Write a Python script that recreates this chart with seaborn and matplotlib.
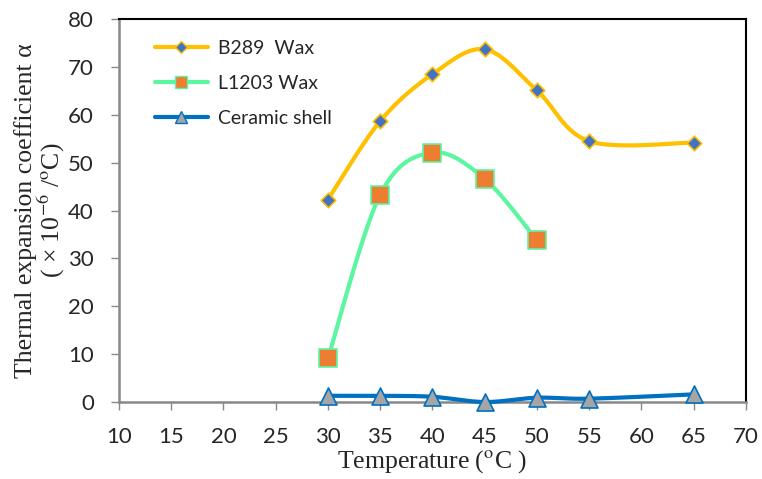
import numpy as np
import pandas as pd
import matplotlib
matplotlib.use("Agg")
import matplotlib.pyplot as plt
import seaborn as sns
from matplotlib.lines import Line2D

# ---- data ----
temp_b289 = [30, 35, 40, 45, 50, 55, 65]
alpha_b289 = [42.3, 58.7, 68.5, 73.7, 65.1, 54.5, 54.2]
temp_l1203 = [30, 35, 40, 45, 50]
alpha_l1203 = [9.1, 43.3, 52.1, 46.6, 33.8]
temp_ceramic = [30, 35, 40, 45, 50, 55, 65]
alpha_ceramic = [1.3, 1.3, 1.1, 0.0, 0.9, 0.7, 1.6]
series_names = ["B289  Wax", "L1203 Wax", "Ceramic shell"]
x_ticks = [10, 15, 20, 25, 30, 35, 40, 45, 50, 55, 60, 65, 70]
y_ticks = [0, 10, 20, 30, 40, 50, 60, 70, 80]

sns.set_theme(style="white")
plt.rcParams["font.family"] = ["Lato", "DejaVu Sans"]
plt.rcParams["mathtext.fontset"] = "stix"


def smooth(xs, ys, n=30):
    """Excel-like smoothed line (Catmull-Rom style cubic Bezier)."""
    xs = np.asarray(xs, float)
    ys = np.asarray(ys, float)
    px, py = [], []
    m = len(xs)
    for i in range(m - 1):
        x0, y0 = (xs[i - 1], ys[i - 1]) if i > 0 else (xs[i], ys[i])
        x1, y1 = xs[i], ys[i]
        x2, y2 = xs[i + 1], ys[i + 1]
        x3, y3 = (xs[i + 2], ys[i + 2]) if i + 2 < m else (xs[i + 1], ys[i + 1])
        c1x, c1y = x1 + (x2 - x0) / 6, y1 + (y2 - y0) / 6
        c2x, c2y = x2 - (x3 - x1) / 6, y2 - (y3 - y1) / 6
        t = np.linspace(0, 1, n, endpoint=(i == m - 2))
        bx = (1 - t) ** 3 * x1 + 3 * (1 - t) ** 2 * t * c1x + 3 * (1 - t) * t ** 2 * c2x + t ** 3 * x2
        by = (1 - t) ** 3 * y1 + 3 * (1 - t) ** 2 * t * c1y + 3 * (1 - t) * t ** 2 * c2y + t ** 3 * y2
        px.extend(bx)
        py.extend(by)
    return pd.DataFrame({"x": px, "y": py})


fig = plt.figure(figsize=(7.62, 4.79), dpi=100)
ax = fig.add_axes([0.156, 0.1607, 0.823, 0.7993])

styles = [
    dict(x=temp_b289, y=alpha_b289, lc="#FFC000", mk="D", mf="#4472C4", me="#FFC000", ms=55, lms=6),
    dict(x=temp_l1203, y=alpha_l1203, lc="#5CF5A0", mk="s", mf="#ED7D31", me="#5CF5A0", ms=150, lms=8),
    dict(x=temp_ceramic, y=alpha_ceramic, lc="#0070C0", mk="^", mf="#A5A5A5", me="#0070C0", ms=150, lms=8),
]

handles = []
for st, name in zip(styles, series_names):
    df_s = smooth(st["x"], st["y"])
    sns.lineplot(data=df_s, x="x", y="y", ax=ax, color=st["lc"], linewidth=3,
                 sort=False, estimator=None, clip_on=False, zorder=3)
    sns.scatterplot(x=st["x"], y=st["y"], ax=ax, marker=st["mk"], s=st["ms"],
                    color=st["mf"], edgecolor=st["me"], linewidth=1.2,
                    clip_on=False, zorder=4)
    handles.append(Line2D([0], [0], color=st["lc"], lw=3, marker=st["mk"],
                          markerfacecolor=st["mf"], markeredgecolor=st["me"],
                          markersize=st["lms"], label=name))

ax.set_xlim(10, 70)
ax.set_ylim(0, 80)
ax.set_xticks(x_ticks)
ax.set_yticks(y_ticks)
ax.tick_params(axis="both", labelsize=16, direction="out", length=6,
               width=1, color="#888888", bottom=True, left=True)
ax.tick_params(axis="y", pad=12)
ax.tick_params(axis="x", pad=12)

for side in ["top", "right"]:
    ax.spines[side].set_color("black")
    ax.spines[side].set_linewidth(1.5)
for side in ["left", "bottom"]:
    ax.spines[side].set_color("#888888")
    ax.spines[side].set_linewidth(1.8)

ax.set_xlabel("Temperature ($^{\\rm o}$C )", family="Liberation Serif", fontsize=18.5, labelpad=1)
ax.set_ylabel("Thermal expansion coefficient α\n( × 10$^{-6}$ /$^{\\rm o}$C)",
              family="Liberation Serif", fontsize=18.5, labelpad=1, linespacing=0.95)

leg = ax.legend(handles=handles, loc="upper left", frameon=False, fontsize=14,
                handlelength=2.75, handletextpad=0.5, labelspacing=0.92,
                bbox_to_anchor=(0.057, 0.945), borderaxespad=0, borderpad=0)

fig.savefig("out.png", dpi=100)
